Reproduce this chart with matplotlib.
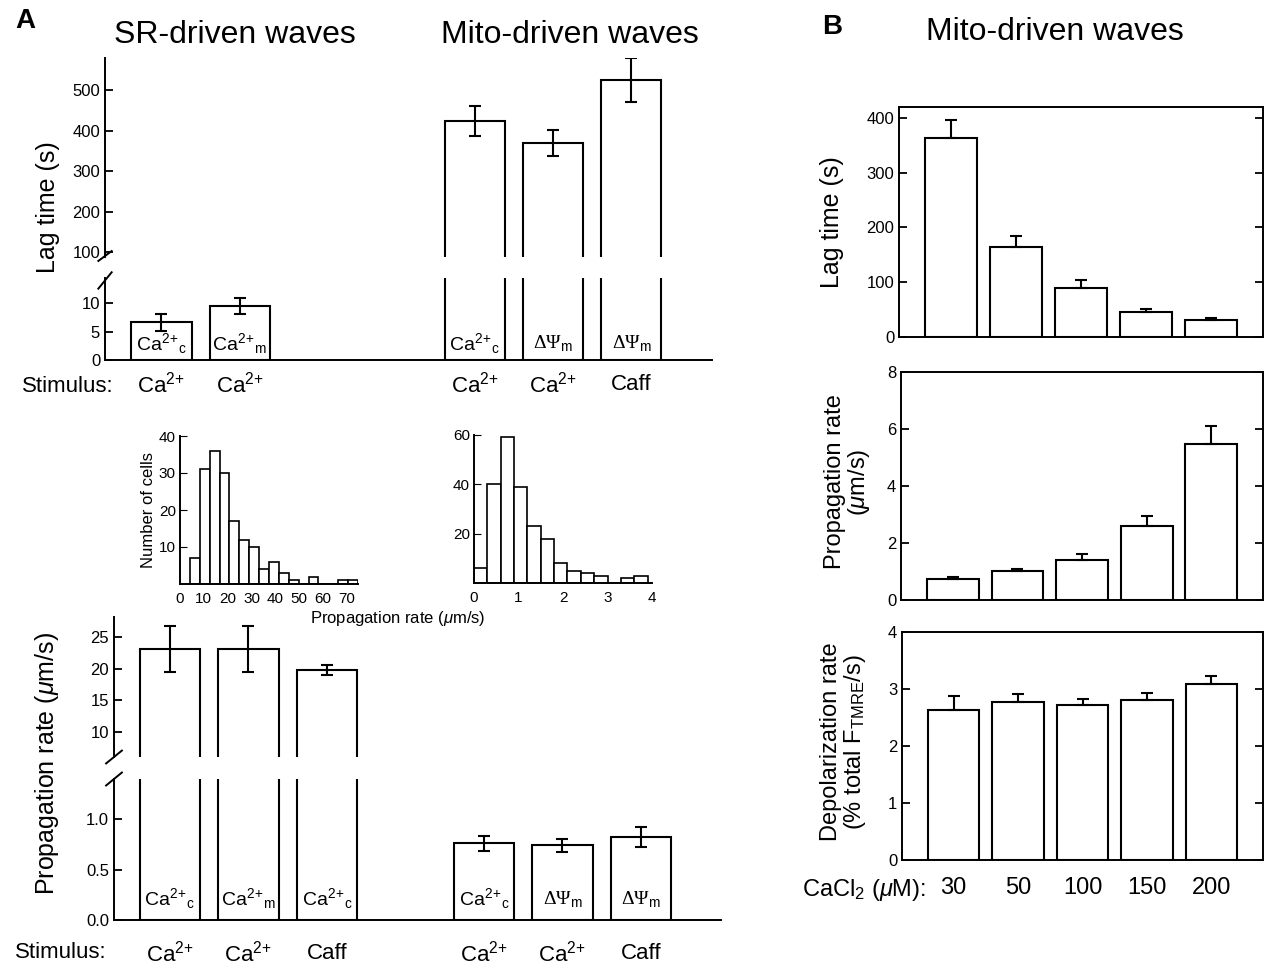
import numpy as np
import matplotlib
matplotlib.use("Agg")
import matplotlib.pyplot as plt

plt.rcParams['font.family'] = ['Liberation Sans', 'DejaVu Sans']
plt.rcParams['mathtext.fontset'] = 'custom'
plt.rcParams['mathtext.rm'] = 'Liberation Sans'
plt.rcParams['mathtext.it'] = 'Liberation Sans:italic'
plt.rcParams['mathtext.bf'] = 'Liberation Sans:bold'
plt.rcParams['axes.linewidth'] = 1.4

CA_C = 'Ca$^{2\\!+\\!}{}_{\\mathrm{c}}$'
CA_M = 'Ca$^{2\\!+\\!}{}_{\\mathrm{m}}$'
PSI_M = 'ΔΨ$_{\\mathrm{m}}$'
CA = 'Ca$^{2\\!+}$'

# ---- data: panel A, lag time ----
lag_pos = [0, 1, 4, 5, 6]
lag_vals = [6.6, 9.5, 425, 370, 525]
lag_err = [1.5, 1.4, 37, 33, 54]
lag_tags = [CA_C, CA_M, CA_C, PSI_M, PSI_M]
lag_stim = [CA, CA, CA, CA, 'Caff']

# ---- data: panel A, propagation rate ----
rate_pos = [0, 1, 2, 4, 5, 6]
rate_vals = [23.1, 23.1, 19.8, 0.76, 0.74, 0.82]
rate_err = [3.6, 3.6, 0.85, 0.07, 0.065, 0.10]
rate_tags = [CA_C, CA_M, CA_C, CA_C, PSI_M, PSI_M]
rate_stim = [CA, CA, 'Caff', CA, CA, 'Caff']

# ---- data: histograms ----
sr_bin_w = 4.15
sr_counts = [7, 31, 36, 30, 17, 12, 10, 4, 6, 3, 1, 0, 2, 0, 0, 1, 1]
mito_bin_w = 0.3
mito_counts = [6, 40, 59, 39, 23, 18, 8, 5, 4, 3, 0, 2, 3]

# ---- data: panel B ----
conc = ['30', '50', '100', '150', '200']
b_lag = [364, 164, 89, 46, 31]
b_lag_err = [32, 21, 15, 5, 3]
b_prop = [0.74, 1.02, 1.40, 2.59, 5.46]
b_prop_err = [0.07, 0.06, 0.23, 0.35, 0.64]
b_dep = [2.64, 2.77, 2.72, 2.80, 3.08]
b_dep_err = [0.23, 0.14, 0.11, 0.13, 0.14]

W, H = 1265, 968
fig = plt.figure(figsize=(W / 100, H / 100), dpi=100)


def add_ax(x0, y0, x1, y1):
    return fig.add_axes([x0 / W, 1 - y1 / H, (x1 - x0) / W, (y1 - y0) / H])


def bars(ax, pos, vals, err, width, upper_only=False):
    ax.bar(pos, vals, width=width, color='white', edgecolor='black', linewidth=1.5, zorder=2)
    yerr = [np.zeros(len(err)), err] if upper_only else err
    ax.errorbar(pos, vals, yerr=yerr, fmt='none', ecolor='black', elinewidth=1.5,
                capsize=4, capthick=1.5, zorder=3)


def slash(ax, xa, ya, dxa, dya):
    ax.plot([xa - dxa, xa + dxa], [ya - dya, ya + dya], transform=ax.transAxes,
            color='black', lw=1.4, clip_on=False)


def tag(ax, x, y, s):
    fam = ['Liberation Serif', 'DejaVu Serif'] if 'Ψ' in s else None
    ax.text(x, y, s, ha='center', va='center', fontsize=14, family=fam)


def broken_style(top, bot):
    for ax in (top, bot):
        ax.spines['top'].set_visible(False)
        ax.spines['right'].set_visible(False)
        ax.tick_params(axis='y', direction='in', length=6, labelsize=12, width=1.3)
        ax.tick_params(axis='x', length=0, labelbottom=False)
        ax.set_facecolor('none')
    top.spines['bottom'].set_visible(False)


# ================= Panel A top: lag time =================
a_top = add_ax(105, 58, 712, 257)
a_bot = add_ax(105, 278, 712, 360)
for ax in (a_top, a_bot):
    bars(ax, lag_pos, lag_vals, lag_err, 0.77)
    ax.set_xlim(-0.72, 7.03)
a_top.set_ylim(88, 580)
a_top.set_yticks([100, 200, 300, 400, 500])
a_bot.set_ylim(0, 14.4)
a_bot.set_yticks([0, 5, 10])
broken_style(a_top, a_bot)
slash(a_top, 0, 0.005, 0.011, 0.025)
slash(a_bot, 0, 0.97, 0.011, 0.1)
for p, t in zip(lag_pos, lag_tags):
    tag(a_bot, p, 2.9, t)
for p, s in zip(lag_pos, lag_stim):
    a_bot.annotate(s, xy=(p, 0), xycoords=('data', 'axes fraction'), xytext=(0, -18),
                   textcoords='offset points', ha='center', va='center', fontsize=16)
fig.text(22 / W, 1 - 386 / H, 'Stimulus:', ha='left', va='center', fontsize=16)
fig.text(48 / W, 1 - 207 / H, 'Lag time (s)', rotation=90, ha='center', va='center', fontsize=18)

# ================= Panel A bottom: propagation rate =================
r_top = add_ax(114, 617, 721, 757)
r_bot = add_ax(114, 779, 721, 920)
for ax in (r_top, r_bot):
    bars(ax, rate_pos, rate_vals, rate_err, 0.77)
    ax.set_xlim(-0.71, 7.02)
r_top.set_ylim(6.06, 28.2)
r_top.set_yticks([10, 15, 20, 25])
r_bot.set_ylim(0, 1.4)
r_bot.set_yticks([0.0, 0.5, 1.0])
r_bot.set_yticklabels(['0.0', '0.5', '1.0'])
broken_style(r_top, r_bot)
slash(r_top, 0, 0.0, 0.013, 0.046)
slash(r_bot, 0, 1.0, 0.013, 0.046)
for p, t in zip(rate_pos, rate_tags):
    tag(r_bot, p, 0.21, t)
for p, s in zip(rate_pos, rate_stim):
    r_bot.annotate(s, xy=(p, 0), xycoords=('data', 'axes fraction'), xytext=(0, -24),
                   textcoords='offset points', ha='center', va='center', fontsize=16)
fig.text(15 / W, 1 - 953 / H, 'Stimulus:', ha='left', va='center', fontsize=16)
fig.text(47 / W, 1 - 764 / H, 'Propagation rate ($\\mu$m/s)', rotation=90,
         ha='center', va='center', fontsize=18)

# ================= Histograms =================
h1 = add_ax(180, 436, 358, 584)
edges1 = np.arange(1, len(sr_counts) + 1) * sr_bin_w
h1.bar(edges1, sr_counts, width=sr_bin_w, align='edge', color='white', edgecolor='black', linewidth=1.2)
h1.set_xlim(0, 74.7)
h1.set_ylim(0, 40)
h1.set_yticks([10, 20, 30, 40])
h1.set_xticks([0, 10, 20, 30, 40, 50, 60, 70])
h1.set_ylabel('Number of cells', fontsize=12, labelpad=2)

h2 = add_ax(474, 435, 652, 583)
edges2 = np.arange(len(mito_counts)) * mito_bin_w
h2.bar(edges2, mito_counts, width=mito_bin_w, align='edge', color='white', edgecolor='black', linewidth=1.2)
h2.set_xlim(0, 4)
h2.set_ylim(0, 60)
h2.set_yticks([20, 40, 60])
h2.set_xticks([0, 1, 2, 3, 4])

for ax in (h1, h2):
    ax.spines['top'].set_visible(False)
    ax.spines['right'].set_visible(False)
    ax.tick_params(axis='y', direction='in', length=5, labelsize=11, pad=3)
    ax.tick_params(axis='x', length=0, labelsize=11, pad=6)
fig.text(398 / W, 1 - 618 / H, 'Propagation rate ($\\mu$m/s)', ha='center', va='center', fontsize=12)

# ================= Panel B =================
bpos = np.arange(len(conc))
b1 = add_ax(899, 107, 1263, 337)
b2 = add_ax(901, 372, 1263, 600)
b3 = add_ax(902, 632, 1263, 860)
for ax, v, e, yl, yt in [(b1, b_lag, b_lag_err, 420, [0, 100, 200, 300, 400]),
                         (b2, b_prop, b_prop_err, 8, [0, 2, 4, 6, 8]),
                         (b3, b_dep, b_dep_err, 4, [0, 1, 2, 3, 4])]:
    bars(ax, bpos, v, e, 0.8, upper_only=True)
    ax.set_xlim(-0.8, 4.8)
    ax.set_ylim(0, yl)
    ax.set_yticks(yt)
    ax.tick_params(axis='y', direction='in', length=6, right=True, labelsize=12, width=1.3)
    ax.tick_params(axis='x', length=0, labelbottom=False)
b3.set_xticks(bpos)
b3.set_xticklabels(conc)
b3.tick_params(axis='x', labelbottom=True, labelsize=17, pad=12)

fig.text(832 / W, 1 - 222 / H, 'Lag time (s)', rotation=90, ha='center', va='center', fontsize=18)
fig.text(848 / W, 1 - 482 / H, 'Propagation rate\n($\\mu$m/s)', rotation=90,
         ha='center', va='center', fontsize=17, linespacing=1.05)
fig.text(844 / W, 1 - 742 / H, 'Depolarization rate\n(% total F$_{\\mathrm{TMRE}}$/s)', rotation=90,
         ha='center', va='center', fontsize=17, linespacing=1.05)
fig.text(926 / W, 1 - 890 / H, 'CaCl$_{2}$ ($\\mu$M):', ha='right', va='center', fontsize=17)

# ---- titles ----
fig.text(25 / W, 1 - 21 / H, 'A', ha='center', va='center', fontsize=20, fontweight='bold')
fig.text(235 / W, 1 - 35 / H, 'SR-driven waves', ha='center', va='center', fontsize=23)
fig.text(570 / W, 1 - 35 / H, 'Mito-driven waves', ha='center', va='center', fontsize=23)
fig.text(832 / W, 1 - 27 / H, 'B', ha='center', va='center', fontsize=20, fontweight='bold')
fig.text(1055 / W, 1 - 32 / H, 'Mito-driven waves', ha='center', va='center', fontsize=23)

fig.savefig('out.png', dpi=100, facecolor='white')
